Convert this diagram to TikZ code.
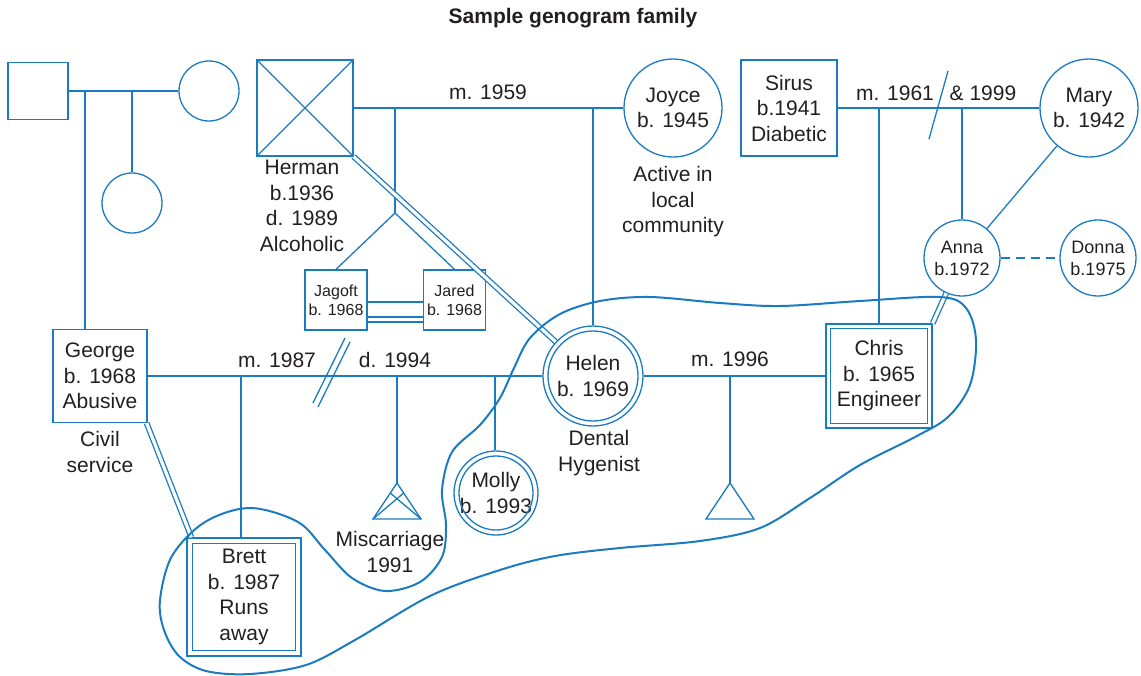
\documentclass[tikz,border=0pt]{standalone}
\usepackage{fontspec}
\setmainfont{Liberation Sans}
\definecolor{gblue}{HTML}{1A7BC0}
\definecolor{gtext}{HTML}{231F20}
\begin{document}
\begin{tikzpicture}[x=1pt,y=-1pt,
  every node/.style={text=gtext, align=center, inner sep=0pt, font=\fontsize{21}{25.5}\selectfont},
  ln/.style={draw=gblue, line width=1.3pt},
  dl/.style={draw=gblue, line width=1.3pt, double=white, double distance=3.2pt},
  sq/.style={draw=gblue, line width=1.3pt, rectangle},
  circ/.style={draw=gblue, line width=1.3pt, circle},
  smalltxt/.style={font=\fontsize{16}{19}\selectfont},
  midtxt/.style={font=\fontsize{18}{22}\selectfont}]
\useasboundingbox (0,0) rectangle (1141,675);

% title
\node[font=\bfseries\fontsize{21}{25}\selectfont] (title) at (573,18) {Sample genogram family};

% grandparents left
\node[sq, minimum width=60pt, minimum height=57pt] (gf) at (38,91) {};
\node[circ, minimum size=60pt] (gm) at (209,91) {};
\node[circ, minimum size=60pt] (aunt) at (132,203) {};

% Herman & Joyce
\node[sq, minimum size=96pt] (herman) at (305,108) {};
\node (hermant) at (302,206) {Herman\\b.1936\\d. 1989\\Alcoholic};
\node[circ, minimum size=98pt] (joyce) at (673,108) {Joyce\\b. 1945};
\node (joycet) at (673,202) {Active in\\local\\community};
\node (l1959) at (488,92) {m. 1959};

% twins
\node[sq, smalltxt, minimum width=62pt, minimum height=60pt] (jagoft) at (336,300) {Jagoft\\b. 1968};
\node[sq, smalltxt, minimum width=62pt, minimum height=60pt] (jared) at (454.5,300) {Jared\\b. 1968};

% Sirus & Mary
\node[sq, minimum size=96pt] (sirus) at (789,108) {Sirus\\b.1941\\Diabetic};
\node[circ, minimum size=98pt] (mary) at (1089,108) {Mary\\b. 1942};
\node (l1961) at (895,93) {m. 1961};
\node (l1999) at (983,93) {\& 1999};
\node[circ, midtxt, minimum size=76pt] (anna) at (962,258) {Anna\\b.1972};
\node[circ, midtxt, minimum size=76pt] (donna) at (1098,258) {Donna\\b.1975};

% generation 2
\node[sq, minimum width=94pt, minimum height=93pt] (george) at (100,376) {George\\b. 1968\\Abusive};
\node (georget) at (100,452) {Civil\\service};
\node[circ, minimum size=100pt] (helen) at (593,376) {Helen\\b. 1969};
\node (helent) at (599,453) {Dental\\Hygenist};
\node[sq, minimum width=106pt, minimum height=104pt] (chris) at (879,376) {Chris\\b. 1965\\Engineer};
\node (l1987) at (277,360) {m. 1987};
\node (l1994) at (395,360) {d. 1994};
\node (l1996) at (730,359) {m. 1996};

% generation 3
\node[sq, minimum width=114pt, minimum height=118pt] (brett) at (244,597) {Brett\\b. 1987\\Runs\\away};
\node[circ, minimum size=84pt] (molly) at (496,493) {Molly\\b. 1993};
\node (misct) at (390,552) {Miscarriage\\1991};

% inner outlines
\draw[ln] (helen.center) circle[radius=45pt];
\draw[ln] (molly.center) circle[radius=37pt];
\draw[ln] ([shift={(5,5)}]chris.north west) rectangle ([shift={(-5,-5)}]chris.south east);
\draw[ln] ([shift={(6,6)}]brett.north west) rectangle ([shift={(-6,-6)}]brett.south east);

% Herman cross
\draw[ln] (herman.north west) -- (herman.south east) (herman.north east) -- (herman.south west);

% left family lines
\coordinate (m1) at (85,91);
\coordinate (m2) at (132,91);
\draw[ln] (gf.east) -- (gm.west);
\draw[ln] (m2) -- (aunt.north);
\draw[ln] (m1) -- (m1 |- george.north);

% Herman - Joyce
\coordinate (hj1) at (395,108);
\coordinate (tw) at (395,213);
\coordinate (hjh) at (593,108);
\draw[ln] (herman.east) -- (joyce.west);
\draw[ln] (hj1) -- (tw);
\draw[ln] (tw) -- (jagoft.north) (tw) -- (jared.north);
\draw[ln] (hjh) -- (helen.north);
\draw[ln] ([yshift=-2pt]jagoft.east) -- ([yshift=-2pt]jared.west);
\draw[ln] ([yshift=-17pt]jagoft.east) -- ([yshift=-17pt]jared.west);
\draw[ln] ([yshift=-22pt]jagoft.east) -- ([yshift=-22pt]jared.west);
\draw[dl] (herman.south east) -- (helen);

% Sirus - Mary
\coordinate (sm1) at (879,108);
\coordinate (sm2) at (962,108);
\draw[ln] (sirus.east) -- (mary.west);
\draw[ln] (929,139) -- (948,71);
\draw[ln] (sm1) -- (chris.north);
\draw[ln] (sm2) -- (anna.north);
\draw[ln] (mary) -- (anna);
\draw[ln, dash pattern=on 9pt off 6pt] (anna.east) -- (donna.west);
\draw[dl] (anna) -- (chris.north east);

% George - Helen - Chris
\draw[ln] (george.east) -- (helen.west);
\draw[ln] (helen.east) -- (chris.west);
\draw[ln] (313,403) -- (345,338);
\draw[ln] (318,407) -- (350,342);
\draw[dl] ([xshift=-1pt]george.south east) -- ([xshift=5pt]brett.north west);

\coordinate (gh1) at (241,376);
\draw[ln] (gh1) -- (gh1 |- brett.north);
\coordinate (gh2) at (397,376);
\coordinate (misc) at (397,483);
\draw[ln] (gh2) -- (misc);
\draw[ln] (misc) -- ++(-24,36) -- ++(48,0) -- cycle;
\draw[ln] ([shift={(-24,36)}]misc) -- ([shift={(6.7,10)}]misc);
\draw[ln] ([shift={(24,36)}]misc) -- ([shift={(-6.7,10)}]misc);
\coordinate (gh3) at (495,376);
\draw[ln] (gh3) -- (gh3 |- molly.north);

\coordinate (hc) at (730,376);
\coordinate (preg) at (730,483);
\draw[ln] (hc) -- (preg);
\draw[ln] (preg) -- ++(-24,36) -- ++(48,0) -- cycle;

% enclosure curve
\draw[gblue, line width=2pt] plot[smooth cycle, tension=0.55] coordinates {
 (160,600) (172,556) (205,522) (250,508) (298,522) (325,550) (352,578) (385,591)
 (420,582) (442,557) (446,525) (442,490) (452,452) (480,425) (500,398) (514,368)
 (530,338) (560,314) (600,301) (650,297) (720,303) (780,306) (860,301) (940,297)
 (966,308) (976,340) (970,385) (948,417) (915,437) (860,465) (810,498) (760,528)
 (700,541) (620,548) (555,556) (500,570) (430,596) (355,640) (306,665) (250,674)
 (206,671) (179,656) (164,630)};
\end{tikzpicture}
\end{document}
